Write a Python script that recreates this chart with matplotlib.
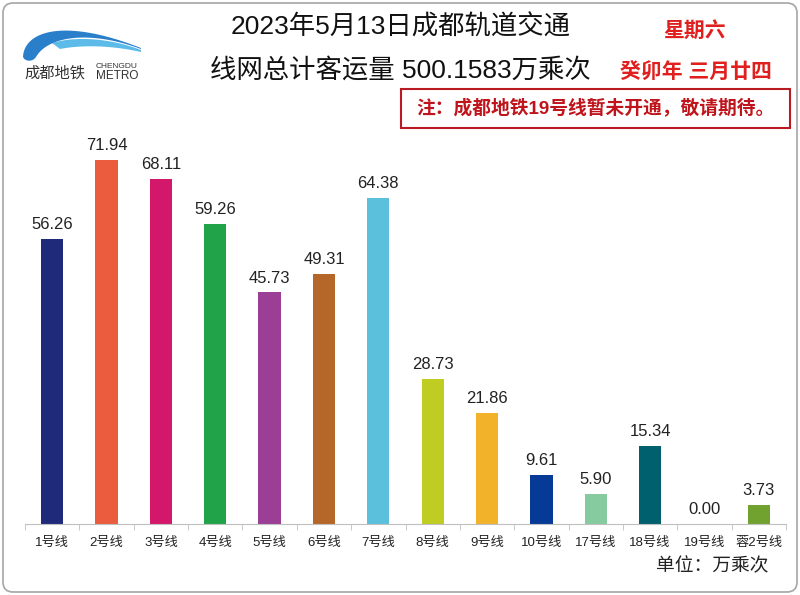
import numpy as np
import matplotlib.pyplot as plt
from matplotlib.patches import FancyBboxPatch, Rectangle, PathPatch
from matplotlib.path import Path

plt.rcParams['font.family'] = ['Liberation Sans', 'Noto Sans CJK SC', 'DejaVu Sans']

lines = ['1号线', '2号线', '3号线', '4号线', '5号线', '6号线', '7号线',
         '8号线', '9号线', '10号线', '17号线', '18号线', '19号线', '蓉2号线']
riders = [56.26, 71.94, 68.11, 59.26, 45.73, 49.31, 64.38,
          28.73, 21.86, 9.61, 5.90, 15.34, 0.00, 3.73]
colors = ['#1f2a7b', '#eb5b3d', '#d3176b', '#21a34a', '#9b3e95', '#b5672a', '#5bc0dc',
          '#bfcc22', '#f2b32a', '#063a96', '#86cba0', '#00606e', '#ffffff', '#71a22f']

title1 = '2023年5月13日成都轨道交通'
title2 = '线网总计客运量 500.1583万乘次'
weekday = '星期六'
lunar = '癸卯年 三月廿四'
note = '注：成都地铁19号线暂未开通，敬请期待。'
unit = '单位：万乘次'

fig = plt.figure(figsize=(8, 5.95), dpi=100)

# overlay in pixel coordinates for frame, logo and note box
deco = fig.add_axes([0, 0, 1, 1])
deco.set_xlim(0, 800)
deco.set_ylim(595, 0)
deco.axis('off')
deco.add_patch(FancyBboxPatch((3, 3), 794, 589, boxstyle='round,pad=0,rounding_size=10',
                              fc='none', ec='#a6a6a6', lw=1.2))

def bez(p0, p1, p2, p3, n=40):
    t = np.linspace(0, 1, n)[:, None]
    p0, p1, p2, p3 = map(np.array, (p0, p1, p2, p3))
    return ((1 - t) ** 3 * p0 + 3 * (1 - t) ** 2 * t * p1
            + 3 * (1 - t) * t ** 2 * p2 + t ** 3 * p3)

# light band under the swoosh
lo = bez((52, 43), (75, 36), (110, 38), (141, 50))
li = bez((141, 52), (110, 45), (80, 45), (60, 49))
deco.add_patch(PathPatch(Path(np.vstack([lo, li, lo[:1]])), fc='#5cbbe8', ec='none'))
# dark swoosh
outer = bez((23, 57), (24, 32), (62, 17), (141, 48))
inner = bez((141, 49), (90, 30), (48, 36), (36, 57))
cap = bez((36, 57), (33, 62), (25, 62), (23, 57), n=8)
deco.add_patch(PathPatch(Path(np.vstack([outer, inner, cap])), fc='#2a7fcb', ec='none'))
deco.text(24, 73, '成都地铁', fontsize=11, color='#333333', va='center', ha='left')
deco.text(96, 66, 'CHENGDU', fontsize=6, color='#333333', va='center', ha='left')
deco.text(96, 76, 'METRO', fontsize=8.5, color='#333333', va='center', ha='left')

deco.text(401, 27, title1, fontsize=19, ha='center', va='center', color='#111111')
deco.text(400, 70, title2, fontsize=19, ha='center', va='center', color='#111111')
deco.text(695, 31, weekday, fontsize=15, ha='center', va='center', color='#e0201f', weight='bold')
deco.text(696, 72, lunar, fontsize=15, ha='center', va='center', color='#e0201f', weight='bold')
deco.add_patch(Rectangle((401, 89), 389, 39, fc='none', ec='#b81c22', lw=1.5))
deco.text(595, 108, note, fontsize=13.5, ha='center', va='center', color='#c0141c', weight='bold')
deco.text(712, 566, unit, fontsize=13.5, ha='center', va='center', color='#222222')

ax = fig.add_axes([25 / 800, 71 / 595, 761 / 800, 405 / 595])
x = np.arange(len(lines))
ax.bar(x, riders, width=0.41, color=colors)
for xi, v in zip(x, riders):
    ax.annotate(f'{v:.2f}', (xi, v), xytext=(0, 5), textcoords='offset points',
                ha='center', va='bottom', fontsize=12, color='#222222')
ax.set_xlim(-0.5, len(lines) - 0.5)
ax.set_ylim(0, 80)
ax.set_xticks(x)
ax.set_xticklabels(lines, fontsize=9.5, color='#222222')
ax.set_xticks(np.arange(-0.5, len(lines)), minor=True)
ax.tick_params(axis='x', which='major', length=0, pad=9)
ax.tick_params(axis='x', which='minor', length=4, color='#bfbfbf')
ax.set_yticks([])
for s in ['top', 'right', 'left']:
    ax.spines[s].set_visible(False)
ax.spines['bottom'].set_color('#bfbfbf')
ax.patch.set_alpha(0)

fig.savefig('out.png', dpi=100)
